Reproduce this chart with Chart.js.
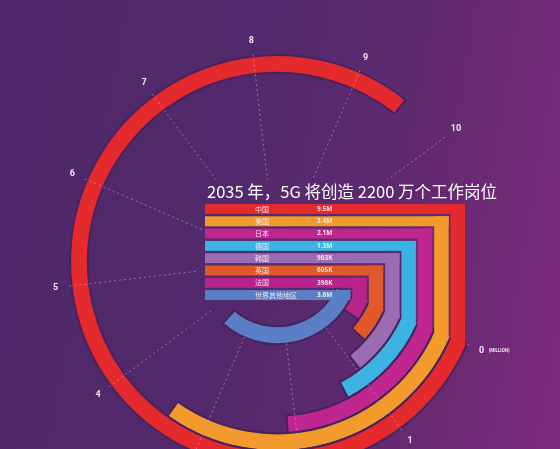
<!DOCTYPE html>
<html><head><meta charset="utf-8">
<script src="https://cdn.jsdelivr.net/npm/chart.js@4.4.1/dist/chart.umd.min.js"></script>
<style>
html,body{margin:0;padding:0;width:560px;height:449px;overflow:hidden;}
body{background:linear-gradient(100deg,#4f296b 0%,#53296c 45%,#60296f 68%,#7c2a7b 100%);}
.layer{position:absolute;left:0;top:0;width:560px;height:524px;}
</style></head><body>
<div class="layer"><canvas id="rings"></canvas></div>
<div class="layer"><canvas id="axis"></canvas></div>
<script>
const title = '2035 年，5G 将创造 2200 万个工作岗位';
const categories = ['中国','美国','日本','德国','韩国','英国','法国','世界其他地区'];
const valueLabels = ['9.5M','3.4M','2.1M','1.3M','963K','605K','398K','3.6M'];
const values = [9.5, 3.4, 2.1, 1.3, 0.963, 0.605, 0.398, 3.6];
const tickLabels = ['0','1','2','3','4','5','6','7','8','9','10',''];
const unitLabel = '(MILLION)';
const colors = ['#e42a2c','#f39a2c','#c0268f','#3bb3e3','#9a6cb2','#e1592b','#b9238c','#5b7fc6'];

Chart.defaults.font.family = "'Noto Sans CJK SC','Noto Sans',sans-serif";

const ringChart = new Chart(document.getElementById('rings'), {
  type: 'doughnut',
  data: {
    labels: ['value', 'rest'],
    datasets: categories.map((c, i) => ({
      label: c,
      data: [values[i], tickLabels.length - values[i]],
      backgroundColor: [colors[i], 'rgba(0,0,0,0)'],
      borderColor: ['#47225f', 'rgba(0,0,0,0)'],
      borderWidth: [2, 0],
      hoverOffset: 0
    }))
  },
  options: {
    responsive: true, maintainAspectRatio: false, animation: false, events: [],
    rotation: 113.4, circumference: 360, radius: 207, cutout: 64,
    layout: {padding: {left: 70, right: 76, top: 55, bottom: 55}},
    plugins: {legend: {display: false}, tooltip: {enabled: false}}
  }
});

const overlay = {
  id: 'overlay',
  afterDraw(chart) {
    const ctx = chart.ctx;
    const scale = chart.scales.r;
    const cx = scale.xCenter, cy = scale.yCenter;
    ctx.save();
    // title metrics (used to keep the spokes off the heading)
    ctx.font = "16.5px 'Noto Sans CJK SC'";
    const tw = ctx.measureText(title).width;
    const tx = cx - 70, ty = cy - 64;
    // dashed spokes of the radial axis
    ctx.save();
    ctx.beginPath();
    ctx.rect(0, 0, chart.width, chart.height);
    ctx.rect(tx - 4, ty - 18, tw + 8, 24);
    ctx.clip('evenodd');
    ctx.strokeStyle = 'rgba(235,170,225,0.55)';
    ctx.lineWidth = 1;
    ctx.setLineDash([2, 3]);
    tickLabels.forEach((t, i) => {
      if (t === '') return;
      const a = scale.getPointPosition(i, 82);
      const b = scale.getPointPosition(i, scale.drawingArea);
      ctx.beginPath(); ctx.moveTo(a.x, a.y); ctx.lineTo(b.x, b.y); ctx.stroke();
    });
    ctx.restore();
    // lead-in bars joining each ring
    categories.forEach((c, i) => {
      const arc = ringChart.getDatasetMeta(i).data[0];
      const p = arc.getProps(['x', 'y', 'startAngle', 'innerRadius', 'outerRadius'], true);
      const rin = p.innerRadius + 1, rout = p.outerRadius - 1;
      const a = p.startAngle + 2.5 / ((rin + rout) / 2);
      const ix = p.x + rin * Math.cos(a), iy = p.y + rin * Math.sin(a);
      const ox = p.x + rout * Math.cos(a), oy = p.y + rout * Math.sin(a);
      const top = p.y - 58 + i * 12.3, h = 10, left = p.x - 72;
      ctx.fillStyle = colors[i];
      ctx.fillRect(left, top, ox - left, h);
      ctx.beginPath();
      ctx.moveTo(ix, top); ctx.lineTo(ox, top); ctx.lineTo(ox, oy); ctx.lineTo(ix, iy);
      ctx.closePath(); ctx.fill();
      ctx.fillStyle = 'rgba(255,238,246,0.92)';
      ctx.font = "7px 'Noto Sans CJK SC'";
      ctx.textBaseline = 'middle'; ctx.textAlign = 'left';
      ctx.fillText(c, p.x - 22, top + h / 2);
      ctx.font = "bold 6.5px 'Noto Sans'";
      ctx.fillText(valueLabels[i], p.x + 40, top + h / 2);
    });
    // title
    ctx.fillStyle = '#ffffff';
    ctx.font = "16.5px 'Noto Sans CJK SC'";
    ctx.textAlign = 'left'; ctx.textBaseline = 'alphabetic';
    ctx.fillText(title, tx, ty);
    // radial tick labels
    tickLabels.forEach((t, i) => {
      if (t === '') return;
      const pos = scale.getPointPosition(i, scale.drawingArea + 11);
      ctx.fillStyle = '#f2e6f4';
      ctx.font = "bold 9px Roboto";
      ctx.textAlign = 'center'; ctx.textBaseline = 'middle';
      ctx.fillText(t, pos.x, pos.y);
      if (i === 0) {
        ctx.font = "bold 4.5px Roboto";
        ctx.textAlign = 'left';
        ctx.fillText(unitLabel, pos.x + 7, pos.y + 0.5);
      }
    });
    ctx.restore();
  }
};

const axisChart = new Chart(document.getElementById('axis'), {
  type: 'radar',
  data: {labels: tickLabels, datasets: []},
  options: {
    responsive: true, maintainAspectRatio: false, animation: false, events: [],
    layout: {padding: {left: 65, right: 71, top: 50, bottom: 50}},
    plugins: {legend: {display: false}, tooltip: {enabled: false}},
    scales: {
      r: {
        min: 0, max: 1, startAngle: 113.4,
        grid: {display: false},
        ticks: {display: false},
        pointLabels: {display: false},
        angleLines: {display: false}
      }
    }
  },
  plugins: [overlay]
});
</script>
</body></html>
